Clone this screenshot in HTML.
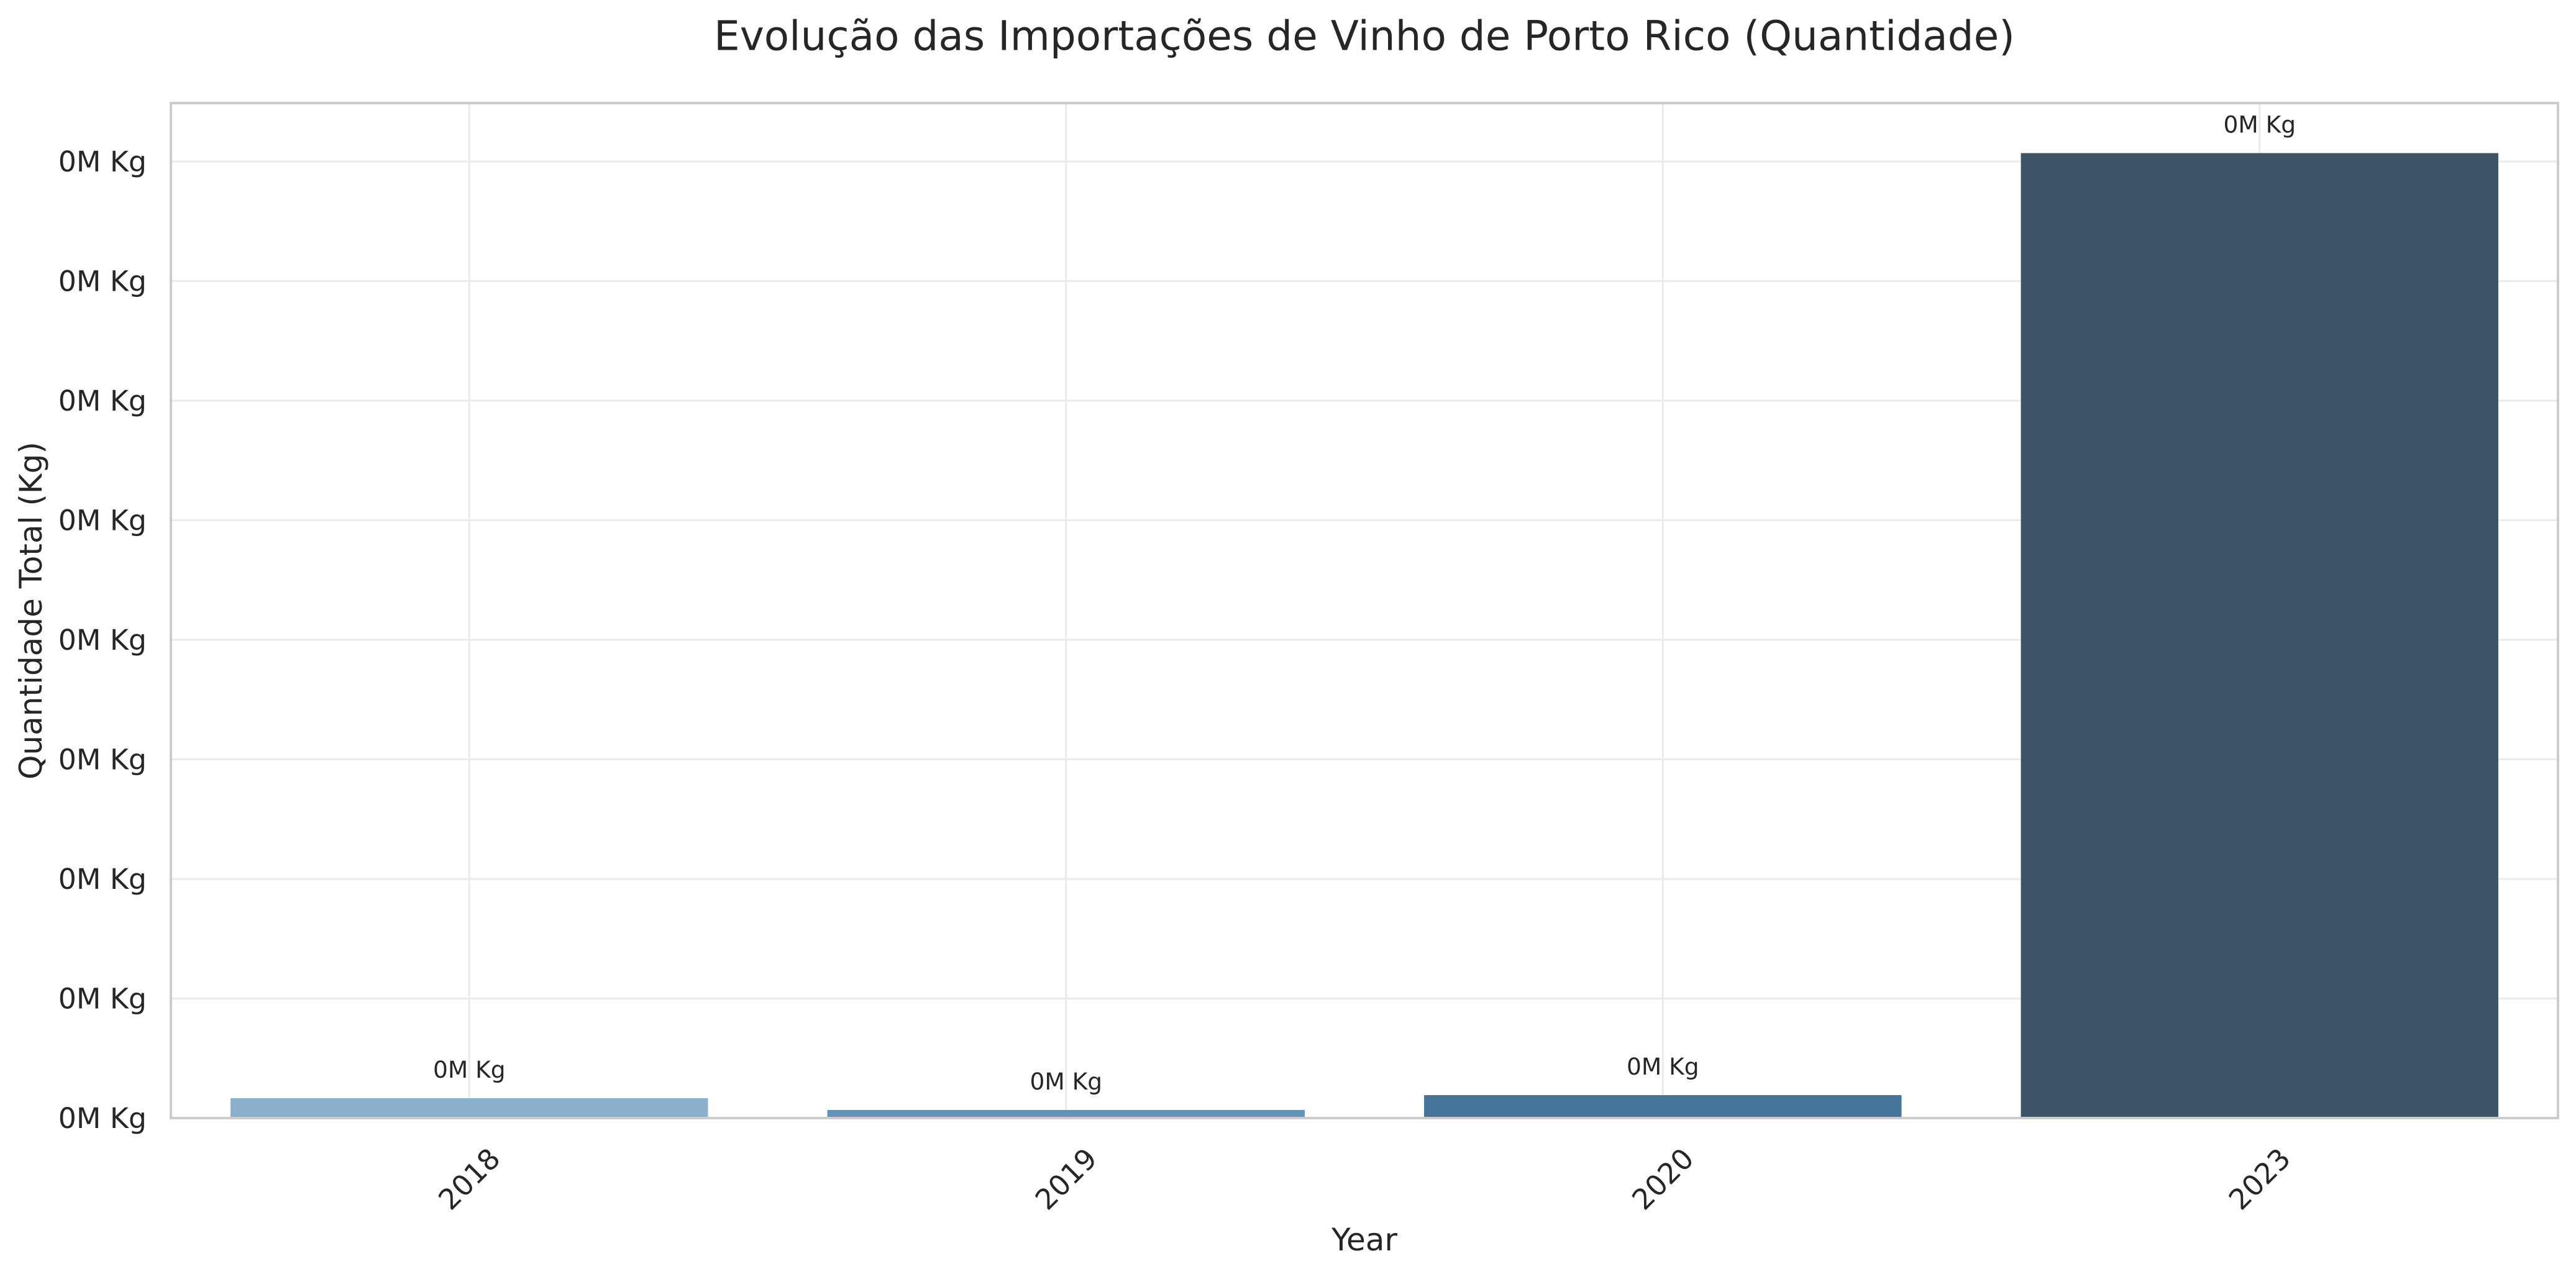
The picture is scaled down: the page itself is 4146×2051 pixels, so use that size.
<!DOCTYPE html>
<html><head><meta charset="utf-8"><style>
html,body{margin:0;padding:0;background:#fff;}
svg{display:block;font-family:"DejaVu Sans","Liberation Sans",sans-serif;}
</style></head><body>
<svg id="chart" width="4146" height="2051" viewBox="0 0 4146 2051" xmlns="http://www.w3.org/2000/svg">
<rect x="0" y="0" width="4146" height="2051" fill="#fff"/>
<text x="2196" y="58" font-size="66" fill="#262626" text-anchor="middle" dominant-baseline="central">Evolução das Importações de Vinho de Porto Rico (Quantidade)</text>
<g id="grid"></g>
<g id="bars"></g>
<g id="labels"></g>
<rect x="275" y="166" width="3842" height="1634" fill="none" stroke="#cccccc" stroke-width="4"/>
<text transform="translate(50,983) rotate(-90)" font-size="50" fill="#262626" text-anchor="middle" dominant-baseline="central">Quantidade Total (Kg)</text>
<text x="2196" y="1996" font-size="50" fill="#262626" text-anchor="middle" dominant-baseline="central">Year</text>
</svg>
<script>
const categories = ["2018","2019","2020","2023"];
const values = [8.3, 3.4, 9.6, 403.5];
const yTicks = [0,50,100,150,200,250,300,350,400];
const yTickLabels = ["0M Kg","0M Kg","0M Kg","0M Kg","0M Kg","0M Kg","0M Kg","0M Kg","0M Kg"];
const barLabels = ["0M Kg","0M Kg","0M Kg","0M Kg"];
const colors = ["#8ab0cb","#5f95bb","#467599","#3d5366"];

const L=275,R=4117,T=166,B=1800,yMax=424.4;
const step=(R-L)/categories.length;
const xc=i=>L+step*(i+0.5);
const y=v=>B-(v/yMax)*(B-T);
const NS="http://www.w3.org/2000/svg";
const grid=document.getElementById('grid'),bars=document.getElementById('bars'),labels=document.getElementById('labels');
function mk(tag,attrs,parent){const e=document.createElementNS(NS,tag);for(const k in attrs)e.setAttribute(k,attrs[k]);parent.appendChild(e);return e;}
yTicks.forEach((t,i)=>{
  const g=mk('line',{x1:L,x2:R,y1:y(t),y2:y(t),stroke:'#ebebeb','stroke-width':3},grid);
  
  
  const tx=mk('text',{x:236,y:y(t),'font-size':45.8,fill:'#262626','text-anchor':'end','dominant-baseline':'central'},labels);
  tx.textContent=yTickLabels[i];
  
  
});
categories.forEach((c,i)=>{
  const g=mk('line',{x1:xc(i),x2:xc(i),y1:T,y2:B,stroke:'#ebebeb','stroke-width':3},grid);
  
  
  const w=step*0.8;
  const r=mk('rect',{x:xc(i)-w/2,y:y(values[i]),width:w,height:B-y(values[i]),fill:colors[i]},bars);
  
  
  const a=mk('text',{x:xc(i),y:y(values[i])-46,'font-size':37.5,fill:'#262626','text-anchor':'middle','dominant-baseline':'central'},labels);
  a.textContent=barLabels[i];
  
  
  const t=mk('text',{transform:`translate(${xc(i)},1898) rotate(-45)`,'font-size':45.8,fill:'#262626','text-anchor':'middle','dominant-baseline':'central'},labels);
  t.textContent=c;
  
  
});
</script>
</body></html>
